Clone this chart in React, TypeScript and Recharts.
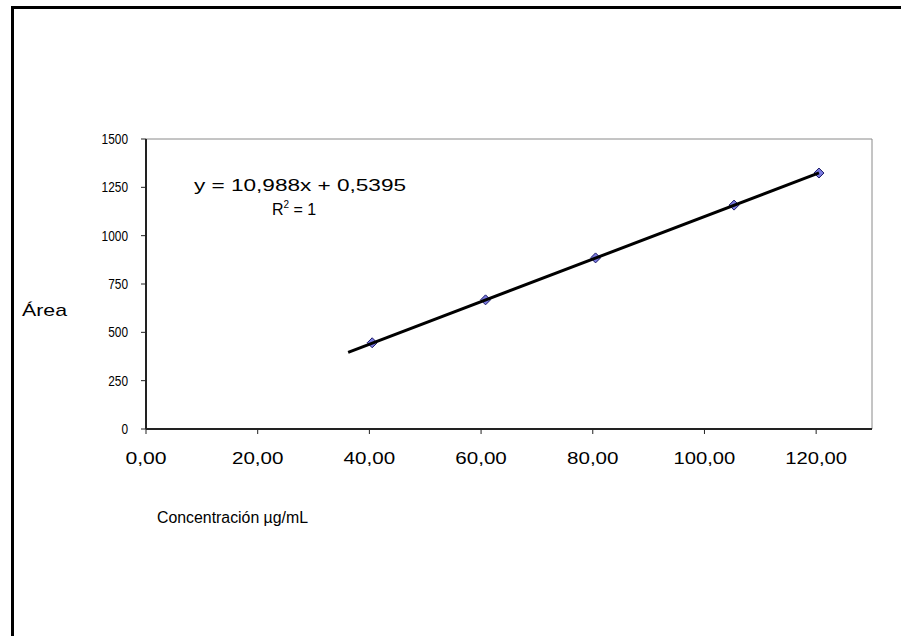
import React from "react";
import {
  ComposedChart,
  Scatter,
  XAxis,
  YAxis,
  ReferenceLine,
  Customized,
} from "recharts";

// Calibration points (concentration µg/mL, area)
const concentration = [40.5, 60.8, 80.5, 105.3, 120.5];
const area = [446, 668, 885, 1158, 1324];

// Linear trend line end points (as drawn)
const trendConcentration = [36.2, 120.5];
const trendArea = [396, 1325];

const xTicks = [0, 20, 40, 60, 80, 100, 120];
const xTickLabels = ["0,00", "20,00", "40,00", "60,00", "80,00", "100,00", "120,00"];
const yTicks = [0, 250, 500, 750, 1000, 1250, 1500];
const yTickLabels = ["0", "250", "500", "750", "1000", "1250", "1500"];

const equationText = "y =  10,988x + 0,5395";
const r2Base = "R";
const r2Sup = "2";
const r2Rest = " = 1";
const yTitle = "Área";
const xTitle = "Concentración µg/mL";

const points = concentration.map((c, i) => ({ x: c, y: area[i] }));
const trend = trendConcentration.map((c, i) => ({ x: c, y: trendArea[i] }));

const FONT = "'Liberation Sans', Arial, sans-serif";

const XTick = (props: any) => {
  const { x, y, payload } = props;
  const idx = xTicks.indexOf(payload.value);
  const label = idx >= 0 ? xTickLabels[idx] : String(payload.value);
  return (
    <text
      x={x}
      y={y + 30}
      textAnchor="middle"
      fontFamily={FONT}
      fontSize={16}
      fill="#000"
      textLength={label.length * 10.3}
      lengthAdjust="spacingAndGlyphs"
    >
      {label}
    </text>
  );
};

const YTick = (props: any) => {
  const { x, y, payload } = props;
  const idx = yTicks.indexOf(payload.value);
  const label = idx >= 0 ? yTickLabels[idx] : String(payload.value);
  return (
    <text
      x={x - 13}
      y={y + 5}
      textAnchor="end"
      fontFamily={FONT}
      fontSize={14}
      fill="#000"
      textLength={label.length * 6.6}
      lengthAdjust="spacingAndGlyphs"
    >
      {label}
    </text>
  );
};

const Diamond = (props: any) => {
  const { cx, cy } = props;
  if (cx == null || cy == null) return null;
  const r = 5;
  return (
    <polygon
      points={`${cx},${cy - r} ${cx + r},${cy} ${cx},${cy + r} ${cx - r},${cy}`}
      fill="#7b7be0"
      stroke="#1a1a66"
      strokeWidth={1}
    />
  );
};

const NoShape = () => null;

const Annotations = () => (
  <g fontFamily={FONT} fill="#000">
    <text x={300} y={191} textAnchor="middle" fontSize={16} textLength={212} lengthAdjust="spacingAndGlyphs">
      {equationText}
    </text>
    <text x={272} y={215} fontSize={16}>
      {r2Base}
      <tspan dy={-7} fontSize={10}>{r2Sup}</tspan>
      <tspan dy={7}>{r2Rest}</tspan>
    </text>
    <text x={22} y={316} fontSize={17} textLength={45} lengthAdjust="spacingAndGlyphs">
      {yTitle}
    </text>
    <text x={157} y={523} fontSize={16} textLength={151} lengthAdjust="spacingAndGlyphs">
      {xTitle}
    </text>
  </g>
);

export default function App() {
  return (
    <div
      style={{
        position: "absolute",
        left: 0,
        top: 0,
        width: 901,
        height: 636,
        overflow: "hidden",
        background: "#fff",
      }}
    >
      <div
        style={{
          position: "absolute",
          left: 11,
          top: 6,
          width: 1200,
          height: 1200,
          borderLeft: "3px solid #000",
          borderTop: "3px solid #000",
          boxSizing: "border-box",
        }}
      />
      <div style={{ position: "absolute", left: 0, top: 0 }}>
        <ComposedChart
          width={901}
          height={636}
          margin={{ top: 139, right: 29, bottom: 177, left: 86 }}
        >
          <XAxis
            type="number"
            dataKey="x"
            domain={[0, 130]}
            ticks={xTicks}
            allowDataOverflow
            tick={<XTick />}
            tickSize={5}
            tickMargin={0}
            height={30}
            stroke="#222"
            axisLine={{ stroke: "#222", strokeWidth: 2 }}
            tickLine={{ stroke: "#222", strokeWidth: 1 }}
          />
          <YAxis
            type="number"
            dataKey="y"
            domain={[0, 1500]}
            ticks={yTicks}
            allowDataOverflow
            tick={<YTick />}
            tickSize={5}
            tickMargin={0}
            width={60}
            stroke="#222"
            axisLine={{ stroke: "#222", strokeWidth: 2 }}
            tickLine={{ stroke: "#222", strokeWidth: 1 }}
          />
          <ReferenceLine y={1500} stroke="#8a8a8a" strokeWidth={1} />
          <ReferenceLine x={130} stroke="#8a8a8a" strokeWidth={1} />
          <Scatter
            data={points}
            dataKey="y"
            shape={<Diamond />}
            isAnimationActive={false}
          />
          <Scatter
            data={trend}
            dataKey="y"
            shape={<NoShape />}
            line={{ stroke: "#000", strokeWidth: 3 }}
            isAnimationActive={false}
          />
          <Customized component={<Annotations />} />
        </ComposedChart>
      </div>
    </div>
  );
}
